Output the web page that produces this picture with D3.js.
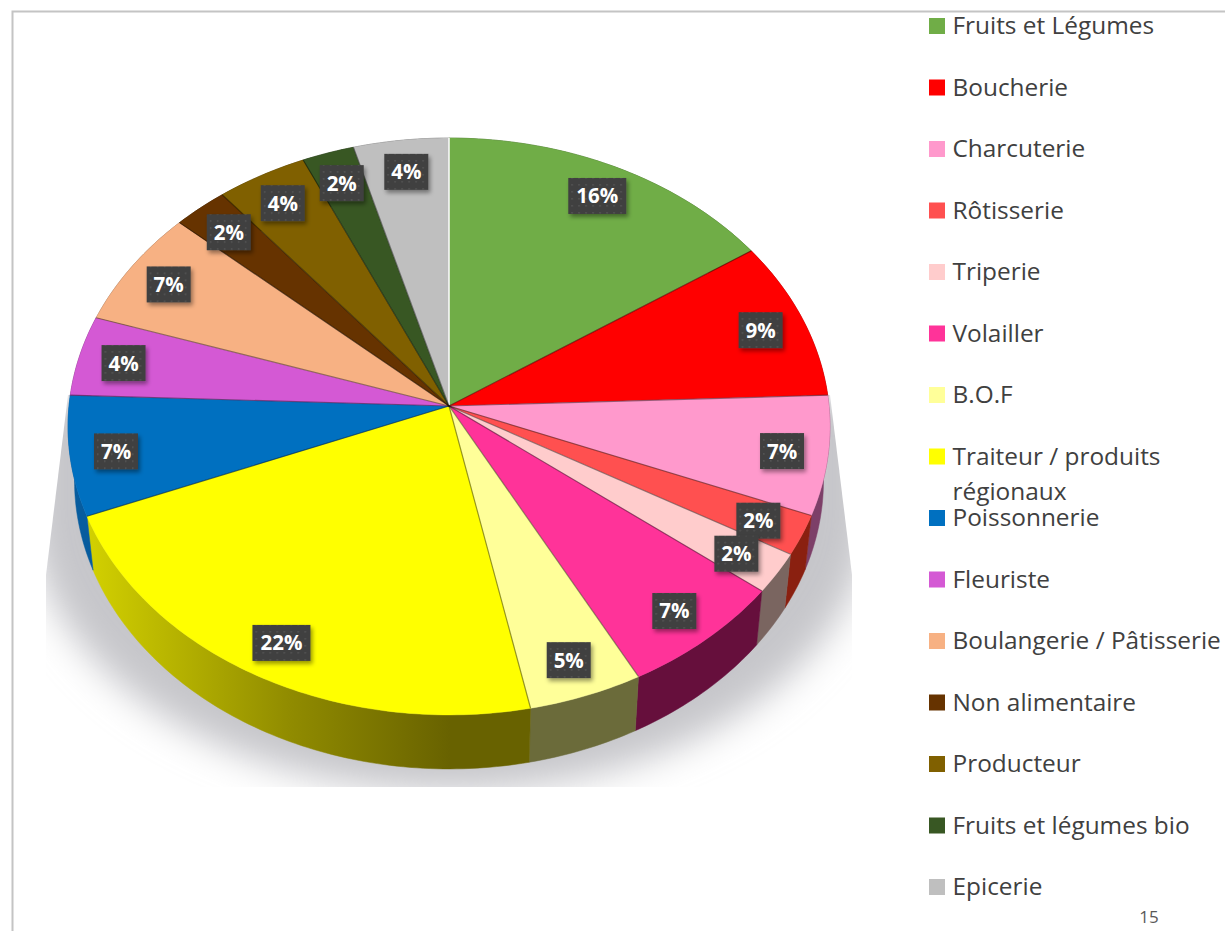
<!DOCTYPE html>
<html><head><meta charset="utf-8">
<style>html,body{margin:0;padding:0;background:#fff}svg{display:block}</style>
<script src="https://cdn.jsdelivr.net/npm/d3@7"></script></head><body>
<script>
const categories = ["Fruits et Légumes","Boucherie","Charcuterie","Rôtisserie","Triperie","Volailler","B.O.F","Traiteur / produits régionaux","Poissonnerie","Fleuriste","Boulangerie / Pâtisserie","Non alimentaire","Producteur","Fruits et légumes bio","Epicerie"];
const values = [15.5,8.9,6.66,2.24,2.27,6.69,4.54,22.1,6.7,4.49,6.58,2.49,4.14,2.37,4.33];
const faceColors = ["#70ad47","#ff0000","#ff99cc","#ff5050","#ffcccc","#ff3399","#ffff99","#ffff00","#0070c0","#d459d4","#f7b183","#663300","#806000","#385723","#bfbfbf"];
const wallColors = ["#3d5f27","#8c0000","#7d3f68","#8a2010","#7a6560","#660f3c","#6b6b3a","url(#yellowWall)","#075c9e","#6a2c6a","#7a5840","#331a00","#403000","#1c2c12","#606060"];

const W=1225,H=931;
const svg=d3.select("body").append("svg").attr("width",W).attr("height",H);
const defs=svg.append("defs");

const yg=defs.append("linearGradient").attr("id","yellowWall").attr("gradientUnits","userSpaceOnUse")
  .attr("x1",90).attr("x2",450).attr("y1",0).attr("y2",0);
yg.append("stop").attr("offset",0).attr("stop-color","#d2d000");
yg.append("stop").attr("offset",0.55).attr("stop-color","#918c00");
yg.append("stop").attr("offset",1).attr("stop-color","#686200");

defs.append("filter").attr("id","shadowBlur").attr("x","-10%").attr("y","-10%").attr("width","120%").attr("height","120%")
  .append("feGaussianBlur").attr("stdDeviation",18);
defs.append("clipPath").attr("id","shadowClip").append("path")
  .attr("d","M68,395L46,575L46,787L852,787L852,575L830,395Z");

const dots=defs.append("pattern").attr("id","dots").attr("patternUnits","userSpaceOnUse").attr("width",7).attr("height",7);
dots.append("rect").attr("width",7).attr("height",7).attr("fill","#3f3f3f");
dots.append("rect").attr("x",2).attr("y",2).attr("width",1.6).attr("height",1.6).attr("fill","#565656");
const ds=defs.append("filter").attr("id","labelShadow").attr("x","-30%").attr("y","-30%").attr("width","170%").attr("height","170%");
ds.append("feDropShadow").attr("dx",2).attr("dy",3).attr("stdDeviation",2).attr("flood-color","#000").attr("flood-opacity",0.4);

// frame
svg.append("path").attr("d","M12.5,931V11.5H1225").attr("fill","none").attr("stroke","#c4c4c4").attr("stroke-width",2);

// perspective projection of the unit disc
const k=0.071;
const sx=d3.scaleLinear().domain([-1,1]).range([449-380,449+380]);
const sy=d3.scaleLinear().domain([-1,1]).range([406-287,406+287]);
const project=(a,r)=>{
  const x=r*Math.sin(a),y=-r*Math.cos(a),w=1-k*y;
  return [sx(x/w),sy(y/w)];
};
const lower=p=>[449+(p[0]-449)*0.983,p[1]+54];

const pie=d3.pie().value(d=>d).sort(null)(values);
const arcPts=d=>{
  const n=Math.max(4,Math.ceil((d.endAngle-d.startAngle)*60));
  return d3.range(n+1).map(i=>project(d.startAngle+(d.endAngle-d.startAngle)*i/n,1));
};
const line=d3.line();

// shadow
const sg=svg.append("g").attr("clip-path","url(#shadowClip)");
sg.append("path").attr("filter","url(#shadowBlur)").attr("fill","#c6c6ca")
  .attr("d","M30,395H870V510A400,268 0 0 1 30,510Z");

// walls
svg.append("g").selectAll("path").data(pie).join("path")
  .attr("d",d=>{const t=arcPts(d);return line(t.concat(t.map(lower).reverse()))+"Z";})
  .attr("fill",(d,i)=>wallColors[i])
  .attr("stroke",(d,i)=>wallColors[i]).attr("stroke-width",0.5);

// faces
svg.append("g").selectAll("path").data(pie).join("path")
  .attr("d",d=>line([[449,406]].concat(arcPts(d)))+"Z")
  .attr("fill",(d,i)=>faceColors[i])
  .attr("stroke",(d,i)=>faceColors[i]).attr("stroke-width",0.4);

// radial separators
svg.append("g").selectAll("line").data(pie).join("line")
  .attr("x1",449).attr("y1",406)
  .attr("x2",d=>project(d.startAngle,1)[0]).attr("y2",d=>project(d.startAngle,1)[1])
  .attr("stroke",(d,i)=>i===0?"#ffffff":"#000")
  .attr("stroke-opacity",(d,i)=>i===0?0.9:0.4).attr("stroke-width",(d,i)=>i===0?1.6:1.2);

// percentage labels
const labelText=d=>Math.round(d.value)+"%";
const lab=svg.append("g").selectAll("g").data(pie).join("g")
  .attr("transform",d=>{const p=project((d.startAngle+d.endAngle)/2,0.88);return `translate(${p[0]},${p[1]+1.5})`;});
lab.append("rect")
  .attr("x",d=>d.value>=9.5?-29:-22).attr("y",-18)
  .attr("width",d=>d.value>=9.5?58:44).attr("height",36)
  .attr("fill","url(#dots)").attr("filter","url(#labelShadow)");
lab.append("text").attr("text-anchor","middle").attr("dy",7.5)
  .attr("font-family","'Open Sans',sans-serif").attr("font-weight",700).attr("font-size",20.5)
  .attr("fill","#fff").text(labelText);

// legend
const rowY=d3.scaleLinear().domain([0,1]).range([26,87.5]);
const leg=svg.append("g").selectAll("g").data(categories).join("g")
  .attr("transform",(d,i)=>`translate(929,${rowY(i)})`);
leg.append("rect").attr("y",-8).attr("width",16).attr("height",16).attr("fill",(d,i)=>faceColors[i]);
const legendText=leg.append("text").attr("x",23.5).attr("y",8)
  .attr("font-family","'Open Sans',sans-serif").attr("font-size",24.4).attr("fill","#404040");
legendText.each(function(d){
  const t=d3.select(this);
  if(d.startsWith("Traiteur")){
    t.append("tspan").attr("x",23.5).text("Traiteur / produits");
    t.append("tspan").attr("x",23.5).attr("dy",35).text("régionaux");
  } else t.text(d);
});

svg.append("text").attr("x",1149).attr("y",923).attr("text-anchor","middle")
  .attr("font-family","'Open Sans',sans-serif").attr("font-size",17).attr("fill","#595959").text("15");
</script></body></html>
